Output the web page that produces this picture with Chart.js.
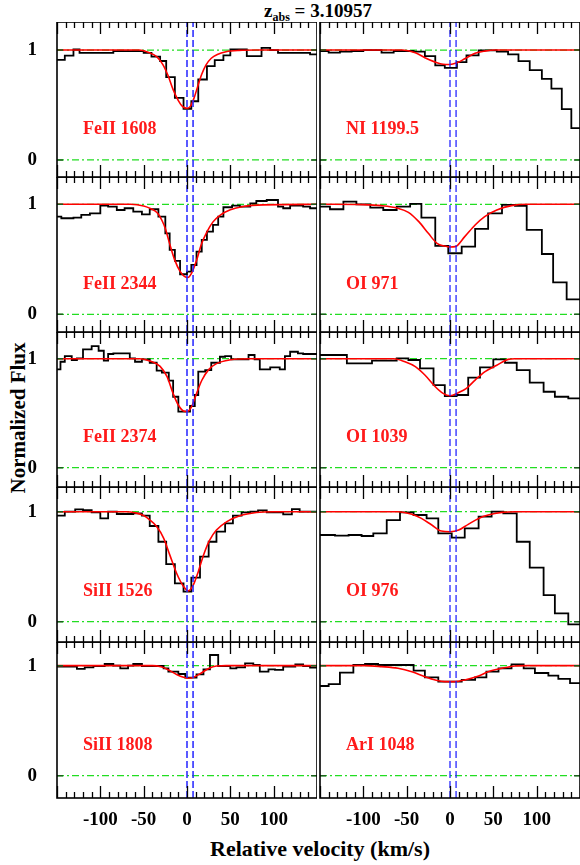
<!DOCTYPE html>
<html><head><meta charset="utf-8">
<script src="https://cdn.jsdelivr.net/npm/chart.js@4.4.1/dist/chart.umd.min.js"></script>
<style>
body{margin:0;background:#fff;}
#wrap{position:relative;width:580px;height:865px;overflow:hidden;background:#fff;font-family:"Liberation Serif","Times New Roman",serif;font-weight:bold;color:#000;}
#wrap canvas{position:absolute;}
.t{position:absolute;white-space:nowrap;line-height:1;}
#title{left:318px;top:1px;font-size:19px;transform:translateX(-50%);}
#title sub{font-size:12px;vertical-align:-4px;line-height:0;}
#xlab{left:320px;top:838px;font-size:22px;transform:translateX(-50%);}
#ylab{left:18px;top:418px;font-size:21px;transform:translate(-50%,-50%) rotate(-90deg);}
</style></head><body>
<div id="wrap">
<div class="t" id="title">z<sub>abs</sub> = 3.10957</div>
<div class="t" id="ylab">Normalized Flux</div>
<div class="t" id="xlab">Relative velocity (km/s)</div>
</div>
<script>
// ---------------- DATA ----------------
const LINE_LABELS = ['FeII 1608','FeII 2344','FeII 2374','SiII 1526','SiII 1808','NI 1199.5','OI 971','OI 1039','OI 976','ArI 1048'];
const X_TICKS = [-100, -50, 0, 50, 100];
const Y_TICKS = [0, 1];
const COMPONENT_VELS = [0, 7];
const LEVELS = [0, 1];

// histograms: bin left edges (km/s, last = right end) and normalized flux
const FEII1608_V = [-151,-141,-131,-124,-85,-50,-41,-31,-24,-14,-4,5,13,23,32,42,50,69,86,96,105,142,151];
const FEII1608_F = [0.91,0.95,1.005,0.975,0.99,0.975,0.94,0.90,0.753,0.564,0.466,0.534,0.732,0.854,0.909,0.951,1.005,0.945,1.02,1.0,0.975,0.96,0.96];
const FEII2344_V = [-151,-145,-131,-122,-112,-100,-91,-81,-72,-62,-52,-43,-33,-25,-20,-14,-8,0,5,11,17,23,30,36,42,52,61,73,80,92,105,111,119,134,142,151];
const FEII2344_F = [0.888,0.873,0.879,0.903,0.918,0.988,0.979,0.948,0.964,0.933,0.909,0.955,0.888,0.736,0.585,0.485,0.364,0.388,0.448,0.570,0.676,0.752,0.812,0.888,0.973,0.988,0.979,1.009,1.03,1.039,0.979,0.964,0.988,0.979,0.964,0.964];
const FEII2374_V = [-151,-146,-141,-133,-127,-120,-110,-102,-96,-91,-85,-66,-60,-52,-43,-35,-29,-21,-16,-10,-2,3.5,9,13,21,28,38,44,51,71,78,84,96,107,113,119,128,134,151];
const FEII2374_F = [0.902,0.972,1.024,0.988,1.003,1.086,1.116,1.073,0.982,1.043,1.049,1.003,0.972,0.994,0.963,0.890,0.872,0.798,0.651,0.514,0.514,0.566,0.667,0.881,0.896,0.963,1.018,1.024,0.994,1.034,0.994,0.902,0.920,0.902,1.024,1.064,1.049,1.043,1.043];
const SIII1526_V = [-151,-141,-129,-120,-110,-100,-91,-81,-62,-52,-43,-33,-24,-14,-4,5,15,25,34,44,53,63,73,82,92,111,121,130,151];
const SIII1526_F = [0.964,1.0,1.021,1.015,0.994,0.939,1.0,0.979,0.985,0.964,0.870,0.727,0.524,0.348,0.273,0.40,0.591,0.727,0.818,0.894,0.964,0.994,1.0,1.012,0.994,0.976,1.024,1.0,1.0];
const SIII1808_V = [-151,-127,-118,-108,-95,-85,-77,-68,-62,-52,-27,-21.5,-10,-2,11,19,26.5,36,50,57,67,76.5,84,94,101.5,111,125,134,142,151];
const SIII1808_F = [0.991,0.970,0.985,0.997,1.015,1.0,0.976,1.0,1.015,0.997,0.976,0.945,0.924,0.891,0.921,0.967,1.097,0.997,0.976,0.985,1.021,1.006,0.945,0.967,0.961,0.991,1.012,0.997,0.982,0.982];
const NI1199_V = [-151,-140,-127,-113.5,-100,-79,-65,-42,-29,-17,-6,8,19,33,54,67,79,92,106,117,129,140,151];
const NI1199_F = [0.991,0.976,0.985,0.991,1.0,0.976,0.991,0.985,0.945,0.860,0.838,0.890,0.951,0.997,0.985,0.960,0.899,0.817,0.738,0.649,0.463,0.290,0.290];
const OI971_V = [-151,-138.5,-123,-108,-92,-77,-61.5,-46,-33,-17,-2,13.5,29,44,60,75,88.5,106,119,134.6,151];
const OI971_F = [0.979,0.955,1.024,1.0,0.970,0.948,0.979,1.003,0.879,0.621,0.555,0.615,0.776,0.918,0.994,0.985,0.767,0.548,0.291,0.136,0.136];
const OI1039_V = [-151,-119,-90,-61.5,-48,-34.6,-19,-6,7.7,21,34.6,50,63.5,77,92,108,121,136.5,151];
const OI1039_F = [1.034,0.957,0.982,1.003,0.988,0.911,0.758,0.657,0.667,0.826,0.920,0.994,0.963,0.896,0.780,0.697,0.651,0.636,0.636];
const OI976_V = [-151,-132.7,-117,-102,-88.5,-73,-57.7,-42,-27,-13.5,2,17,33,48,61.5,77,92,108,121,136.5,151];
const OI976_F = [0.788,0.782,0.788,0.779,0.803,0.924,0.994,0.970,0.939,0.803,0.764,0.848,0.955,1.0,0.985,0.727,0.491,0.242,0.076,-0.024,-0.024];
const ARI1048_V = [-151,-140,-127,-111.5,-98,-83,-56,-42,-29,-13.5,13.5,29,42,56,71,85,98,113.5,125,138.5,151];
const ARI1048_F = [0.815,0.833,0.936,1.006,1.015,1.006,1.006,0.955,0.894,0.855,0.870,0.894,0.945,0.976,1.012,0.976,0.933,0.909,0.879,0.842,0.842];

// fitted model profiles
const FEII1608_MV = [-150,-55,-45,-35,-28,-22,-16,-10,-5,0,4,8,12,17,22,28,35,45,60,80,150];
const FEII1608_MF = [1.0,1.0,0.98,0.94,0.87,0.77,0.64,0.54,0.485,0.47,0.49,0.56,0.66,0.78,0.865,0.925,0.96,0.985,0.997,1.0,1.0];
const FEII2344_MV = [-150,-65,-50,-43,-37,-33,-29,-25,-20,-14,-8,-3,1,5,11,17,23,30,38,50,65,88,150];
const FEII2344_MF = [1.0,1.0,0.985,0.965,0.94,0.91,0.855,0.78,0.64,0.49,0.39,0.345,0.335,0.37,0.49,0.645,0.75,0.84,0.90,0.95,0.98,0.995,1.0];
const FEII2374_MV = [-150,-55,-43,-31,-23,-16,-10,-4,0,5,11,17,25,34,50,73,150];
const FEII2374_MF = [1.0,1.0,0.98,0.93,0.835,0.68,0.575,0.52,0.515,0.555,0.68,0.80,0.90,0.955,0.99,1.0,1.0];
const SIII1526_MV = [-150,-70,-60,-50,-43,-35,-27,-20,-12,-4,1.5,7,13,19,26,34,46,61,80,100,150];
const SIII1526_MF = [1.0,1.0,0.99,0.965,0.925,0.865,0.76,0.61,0.44,0.32,0.28,0.33,0.455,0.605,0.74,0.833,0.91,0.963,0.993,1.0,1.0];
const SIII1808_MV = [-150,-40,-30,-23,-12,-4,1.5,9,17,25,34,45,150];
const SIII1808_MF = [1.0,1.0,0.99,0.968,0.92,0.894,0.885,0.90,0.936,0.975,0.997,1.0,1.0];
const NI1199_MV = [-150,-55,-40,-29,-17,-8,0,8,17,29,40,52,150];
const NI1199_MF = [1.0,1.0,0.976,0.93,0.89,0.87,0.868,0.884,0.92,0.97,0.99,1.0,1.0];
const OI971_MV = [-150,-100,-79,-60,-48,-36,-25,-15,-6,0,6,17,29,40,54,71,90,150];
const OI971_MF = [1.0,0.997,0.988,0.964,0.927,0.842,0.736,0.645,0.62,0.612,0.615,0.706,0.812,0.888,0.948,0.988,1.0,1.0];
const OI1039_MV = [-150,-65,-52,-40,-29,-17,-8,0,9.6,19,29,40,54,67,75,150];
const OI1039_MF = [1.0,1.0,0.972,0.927,0.85,0.743,0.682,0.66,0.688,0.728,0.804,0.88,0.94,0.994,1.0,1.0];
const OI976_MV = [-150,-60,-44,-33,-21,-10,0,10,21,33,44,60,75,150];
const OI976_MF = [1.0,1.0,0.976,0.939,0.879,0.824,0.818,0.833,0.885,0.939,0.97,0.994,1.0,1.0];
const ARI1048_MV = [-150,-98,-79,-60,-44,-29,-17,-6,6,17,33,44,60,75,90,150];
const ARI1048_MF = [1.0,1.0,0.991,0.976,0.945,0.9,0.87,0.855,0.855,0.87,0.906,0.945,0.976,0.997,1.0,1.0];

// ---------------- LAYOUT / STYLE ----------------
const FONT = '"Liberation Serif","Times New Roman",serif';
const COL_X = [57, 320];
const PLOT_W = 260;
const ROW_EDGES = [22, 177, 332, 487, 642, 798];
const ROW_FMIN = [-0.155, -0.161, -0.177, -0.1845, -0.203];
const ROW_FMAX = [1.255, 1.248, 1.245, 1.2245, 1.215];
const AX_W = 45, AX_H = 45;
const V_MIN = -150, V_MAX = 150;
const LABEL_V = -120, LABEL_F = 0.275;
const MINOR_STEP = 10, MAJOR_STEP = 50;

const PANELS = [
  {name:LINE_LABELS[0], v:FEII1608_V, f:FEII1608_F, mv:FEII1608_MV, mf:FEII1608_MF, col:0, row:0},
  {name:LINE_LABELS[1], v:FEII2344_V, f:FEII2344_F, mv:FEII2344_MV, mf:FEII2344_MF, col:0, row:1},
  {name:LINE_LABELS[2], v:FEII2374_V, f:FEII2374_F, mv:FEII2374_MV, mf:FEII2374_MF, col:0, row:2},
  {name:LINE_LABELS[3], v:SIII1526_V, f:SIII1526_F, mv:SIII1526_MV, mf:SIII1526_MF, col:0, row:3},
  {name:LINE_LABELS[4], v:SIII1808_V, f:SIII1808_F, mv:SIII1808_MV, mf:SIII1808_MF, col:0, row:4},
  {name:LINE_LABELS[5], v:NI1199_V, f:NI1199_F, mv:NI1199_MV, mf:NI1199_MF, col:1, row:0},
  {name:LINE_LABELS[6], v:OI971_V, f:OI971_F, mv:OI971_MV, mf:OI971_MF, col:1, row:1},
  {name:LINE_LABELS[7], v:OI1039_V, f:OI1039_F, mv:OI1039_MV, mf:OI1039_MF, col:1, row:2},
  {name:LINE_LABELS[8], v:OI976_V, f:OI976_F, mv:OI976_MV, mf:OI976_MF, col:1, row:3},
  {name:LINE_LABELS[9], v:ARI1048_V, f:ARI1048_F, mv:ARI1048_MV, mf:ARI1048_MF, col:1, row:4}
];

const zip = (xs, ys) => xs.map((x, i) => ({x: x, y: ys[i]}));

const panelPlugin = {
  id: 'panelDecor',
  afterDraw(chart) {
    const {ctx, chartArea: a, scales: {x, y}} = chart;
    const p = chart.options.plugins.panelDecor;
    ctx.save();
    ctx.strokeStyle = '#000';
    ctx.lineWidth = 1.3;
    ctx.beginPath();
    for (let v = V_MIN; v <= V_MAX; v += MINOR_STEP) {
      const px = Math.round(x.getPixelForValue(v)) + 0.5;
      const len = (v % MAJOR_STEP === 0) ? 12 : 6;
      ctx.moveTo(px, a.top); ctx.lineTo(px, a.top + len);
      ctx.moveTo(px, a.bottom); ctx.lineTo(px, a.bottom - len);
    }
    ctx.stroke();
    ctx.strokeStyle = '#1d5e1d';
    ctx.lineWidth = 1.5;
    ctx.beginPath();
    Y_TICKS.forEach(t => {
      const py = y.getPixelForValue(t);
      ctx.moveTo(a.left, py); ctx.lineTo(a.left + 6, py);
      ctx.moveTo(a.right, py); ctx.lineTo(a.right - 6, py);
    });
    ctx.stroke();
    ctx.strokeStyle = '#000';
    ctx.lineWidth = 1.6;
    ctx.strokeRect(a.left, a.top, a.right - a.left, a.bottom - a.top);
    ctx.fillStyle = '#ff1a1a';
    ctx.font = 'bold 18px ' + FONT;
    ctx.textAlign = 'left';
    ctx.textBaseline = 'middle';
    ctx.fillText(p.label, x.getPixelForValue(LABEL_V), y.getPixelForValue(LABEL_F));
    ctx.restore();
  }
};

const wrap = document.getElementById('wrap');
PANELS.forEach(p => {
  const top = ROW_EDGES[p.row];
  const h = ROW_EDGES[p.row + 1] - top;
  const fMin = ROW_FMIN[p.row], fMax = ROW_FMAX[p.row];
  const W = PLOT_W + AX_W, H = h + AX_H;
  const cv = document.createElement('canvas');
  cv.width = W; cv.height = H;
  cv.style.left = (COL_X[p.col] - AX_W) + 'px';
  cv.style.top = top + 'px';
  cv.style.width = W + 'px';
  cv.style.height = H + 'px';
  wrap.appendChild(cv);

  const datasets = [];
  COMPONENT_VELS.forEach(cv0 => datasets.push({
    data: [{x: cv0, y: fMin - 1}, {x: cv0, y: fMax + 1}],
    borderColor: p.col === 0 ? 'rgba(40,40,255,0.85)' : '#1515ff',
    borderWidth: p.col === 0 ? 1.8 : 1.2,
    borderDash: [7, 3], order: 0
  }));
  datasets.push({
    data: zip(p.mv, p.mf), borderColor: '#ff0000', borderWidth: 1.6,
    cubicInterpolationMode: 'monotone', order: 1
  });
  datasets.push({
    data: zip(p.v, p.f), borderColor: '#000', borderWidth: 1.8,
    stepped: 'before', order: 2
  });
  LEVELS.forEach(lv => datasets.push({
    data: [{x: V_MIN, y: lv}, {x: V_MAX, y: lv}],
    borderColor: '#22dd22', borderWidth: 1.2, borderDash: [7, 3, 2, 3], order: 3
  }));

  const zeroPad = s => { s.paddingLeft = 0; s.paddingRight = 0; s.paddingTop = 0; s.paddingBottom = 0; };
  new Chart(cv, {
    type: 'line',
    data: {datasets},
    options: {
      responsive: false, animation: false, devicePixelRatio: 1,
      layout: {padding: 0, autoPadding: false},
      elements: {point: {radius: 0, hoverRadius: 0}, line: {fill: false}},
      events: [],
      plugins: {legend: {display: false}, tooltip: {enabled: false}, title: {display: false},
                panelDecor: {label: p.name}},
      scales: {
        x: {
          type: 'linear', position: 'bottom', min: V_MIN, max: V_MAX,
          afterBuildTicks: s => { s.ticks = X_TICKS.map(v => ({value: v})); },
          afterFit: s => { s.height = AX_H; zeroPad(s); },
          grid: {display: false}, border: {display: false},
          ticks: {display: p.row === 4, padding: 3, color: '#000', autoSkip: false, maxRotation: 0,
                  font: {family: FONT, size: 19, weight: 'bold'}, callback: v => String(v)}
        },
        y: {
          type: 'linear', position: 'left', min: fMin, max: fMax,
          afterBuildTicks: s => { s.ticks = Y_TICKS.map(v => ({value: v})); },
          afterFit: s => { s.width = AX_W; zeroPad(s); },
          grid: {display: false}, border: {display: false},
          ticks: {display: p.col === 0, padding: 12, color: '#000', autoSkip: false,
                  font: {family: FONT, size: 19, weight: 'bold'}, callback: v => String(v)}
        }
      }
    },
    plugins: [panelPlugin]
  });
});
</script>
</body></html>
